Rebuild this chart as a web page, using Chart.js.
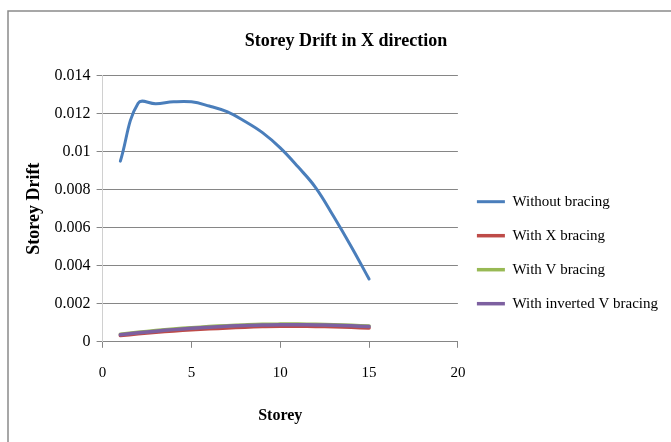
<!DOCTYPE html>
<html>
<head>
<meta charset="utf-8">
<script src="https://cdn.jsdelivr.net/npm/chart.js@4/dist/chart.umd.min.js"></script>
<style>
  html, body { margin: 0; padding: 0; background: #fff; }
  #wrap { width: 671px; height: 442px; }
</style>
</head>
<body>
<div id="wrap"><canvas id="chart" width="671" height="442"></canvas></div>
<script>
var storeys = [1, 2, 3, 4, 5, 6, 7, 8, 9, 10, 11, 12, 13, 14, 15];
var withoutBracing = [0.0095, 0.01255, 0.01252, 0.01262, 0.01262, 0.0124, 0.0121, 0.0116, 0.0110, 0.0102, 0.0092, 0.0081, 0.0066, 0.0050, 0.0033];
var xBracing = [0.00033, 0.00042, 0.0005, 0.00057, 0.00063, 0.00068, 0.00073, 0.00077, 0.0008, 0.00082, 0.00082, 0.00081, 0.00079, 0.00076, 0.00073];
var vBracing = [0.0004, 0.0005, 0.00059, 0.00067, 0.00074, 0.0008, 0.00085, 0.00089, 0.00092, 0.00093, 0.00093, 0.00092, 0.0009, 0.00087, 0.00083];
var invVBracing = [0.00037, 0.00047, 0.00056, 0.00064, 0.00071, 0.00077, 0.00082, 0.00086, 0.00088, 0.0009, 0.0009, 0.00089, 0.00087, 0.00084, 0.0008];

function points(values) {
    return storeys.map(function (s, i) { return { x: s, y: values[i] }; });
}

function series(label, values, color, width, order) {
    return {
        label: label,
        data: points(values),
        borderColor: color,
        backgroundColor: color,
        borderWidth: width,
        pointRadius: 0,
        showLine: true,
        tension: 0.4,
        borderCapStyle: 'round',
        order: order
    };
}

// thin frame on the left and top, like the pasted chart object
var framePlugin = {
    id: 'frame',
    beforeDraw: function (chart) {
        var ctx = chart.ctx;
        ctx.save();
        ctx.fillStyle = '#fff';
        ctx.fillRect(0, 0, chart.width, chart.height);
        ctx.strokeStyle = '#8a8a8a';
        ctx.lineWidth = 1.5;
        ctx.beginPath();
        ctx.moveTo(8, chart.height);
        ctx.lineTo(8, 11);
        ctx.lineTo(chart.width, 11);
        ctx.stroke();
        ctx.restore();
    }
};

var serif = 'Liberation Serif, Times New Roman, serif';

var ctx = document.getElementById('chart').getContext('2d');
var myChart = new Chart(ctx, {
    type: 'scatter',
    data: {
        datasets: [
            series('Without bracing', withoutBracing, '#4a7ebb', 3, 0),
            series('With X bracing', xBracing, '#be4b48', 3.5, 3),
            series('With V bracing', vBracing, '#98b954', 3.5, 2),
            series('With inverted V bracing', invVBracing, '#7d60a0', 3.5, 1)
        ]
    },
    options: {
        responsive: false,
        animation: false,
        layout: { padding: { left: 24, top: 14, right: 3, bottom: 13 } },
        plugins: {
            title: {
                display: true,
                text: 'Storey Drift in X direction',
                color: '#000',
                font: { family: serif, size: 18, weight: 'bold' },
                padding: { top: 17, bottom: 23 }
            },
            legend: {
                position: 'right',
                maxWidth: 215,
                title: { display: true, text: ' ', padding: { top: 48, bottom: 0 } },
                labels: {
                    usePointStyle: true,
                    pointStyle: 'line',
                    pointStyleWidth: 28,
                    color: '#000',
                    padding: 19,
                    font: { family: serif, size: 15 },
                    sort: function (a, b) { return a.datasetIndex - b.datasetIndex; }
                }
            },
            tooltip: { enabled: false }
        },
        scales: {
            x: {
                type: 'linear',
                min: 0,
                max: 20,
                ticks: { stepSize: 5, color: '#000', padding: 16, font: { family: serif, size: 15 } },
                grid: { drawOnChartArea: false, drawTicks: true, tickLength: 6, color: '#868686' },
                border: { color: '#868686' },
                title: {
                    display: true,
                    text: 'Storey',
                    color: '#000',
                    font: { family: serif, size: 16, weight: 'bold' },
                    padding: { top: 8, bottom: 4 }
                }
            },
            y: {
                min: 0,
                max: 0.014,
                ticks: {
                    stepSize: 0.002,
                    color: '#000',
                    padding: 6,
                    font: { family: serif, size: 16 },
                    callback: function (v) { return String(Number(v.toFixed(3))); }
                },
                grid: { color: '#868686', tickLength: 6 },
                border: { color: '#d0d0d0' },
                title: {
                    display: true,
                    text: 'Storey Drift',
                    color: '#000',
                    font: { family: serif, size: 18, weight: 'bold' },
                    padding: { top: 0, bottom: 3 }
                }
            }
        }
    },
    plugins: [framePlugin]
});
</script>
</body>
</html>
